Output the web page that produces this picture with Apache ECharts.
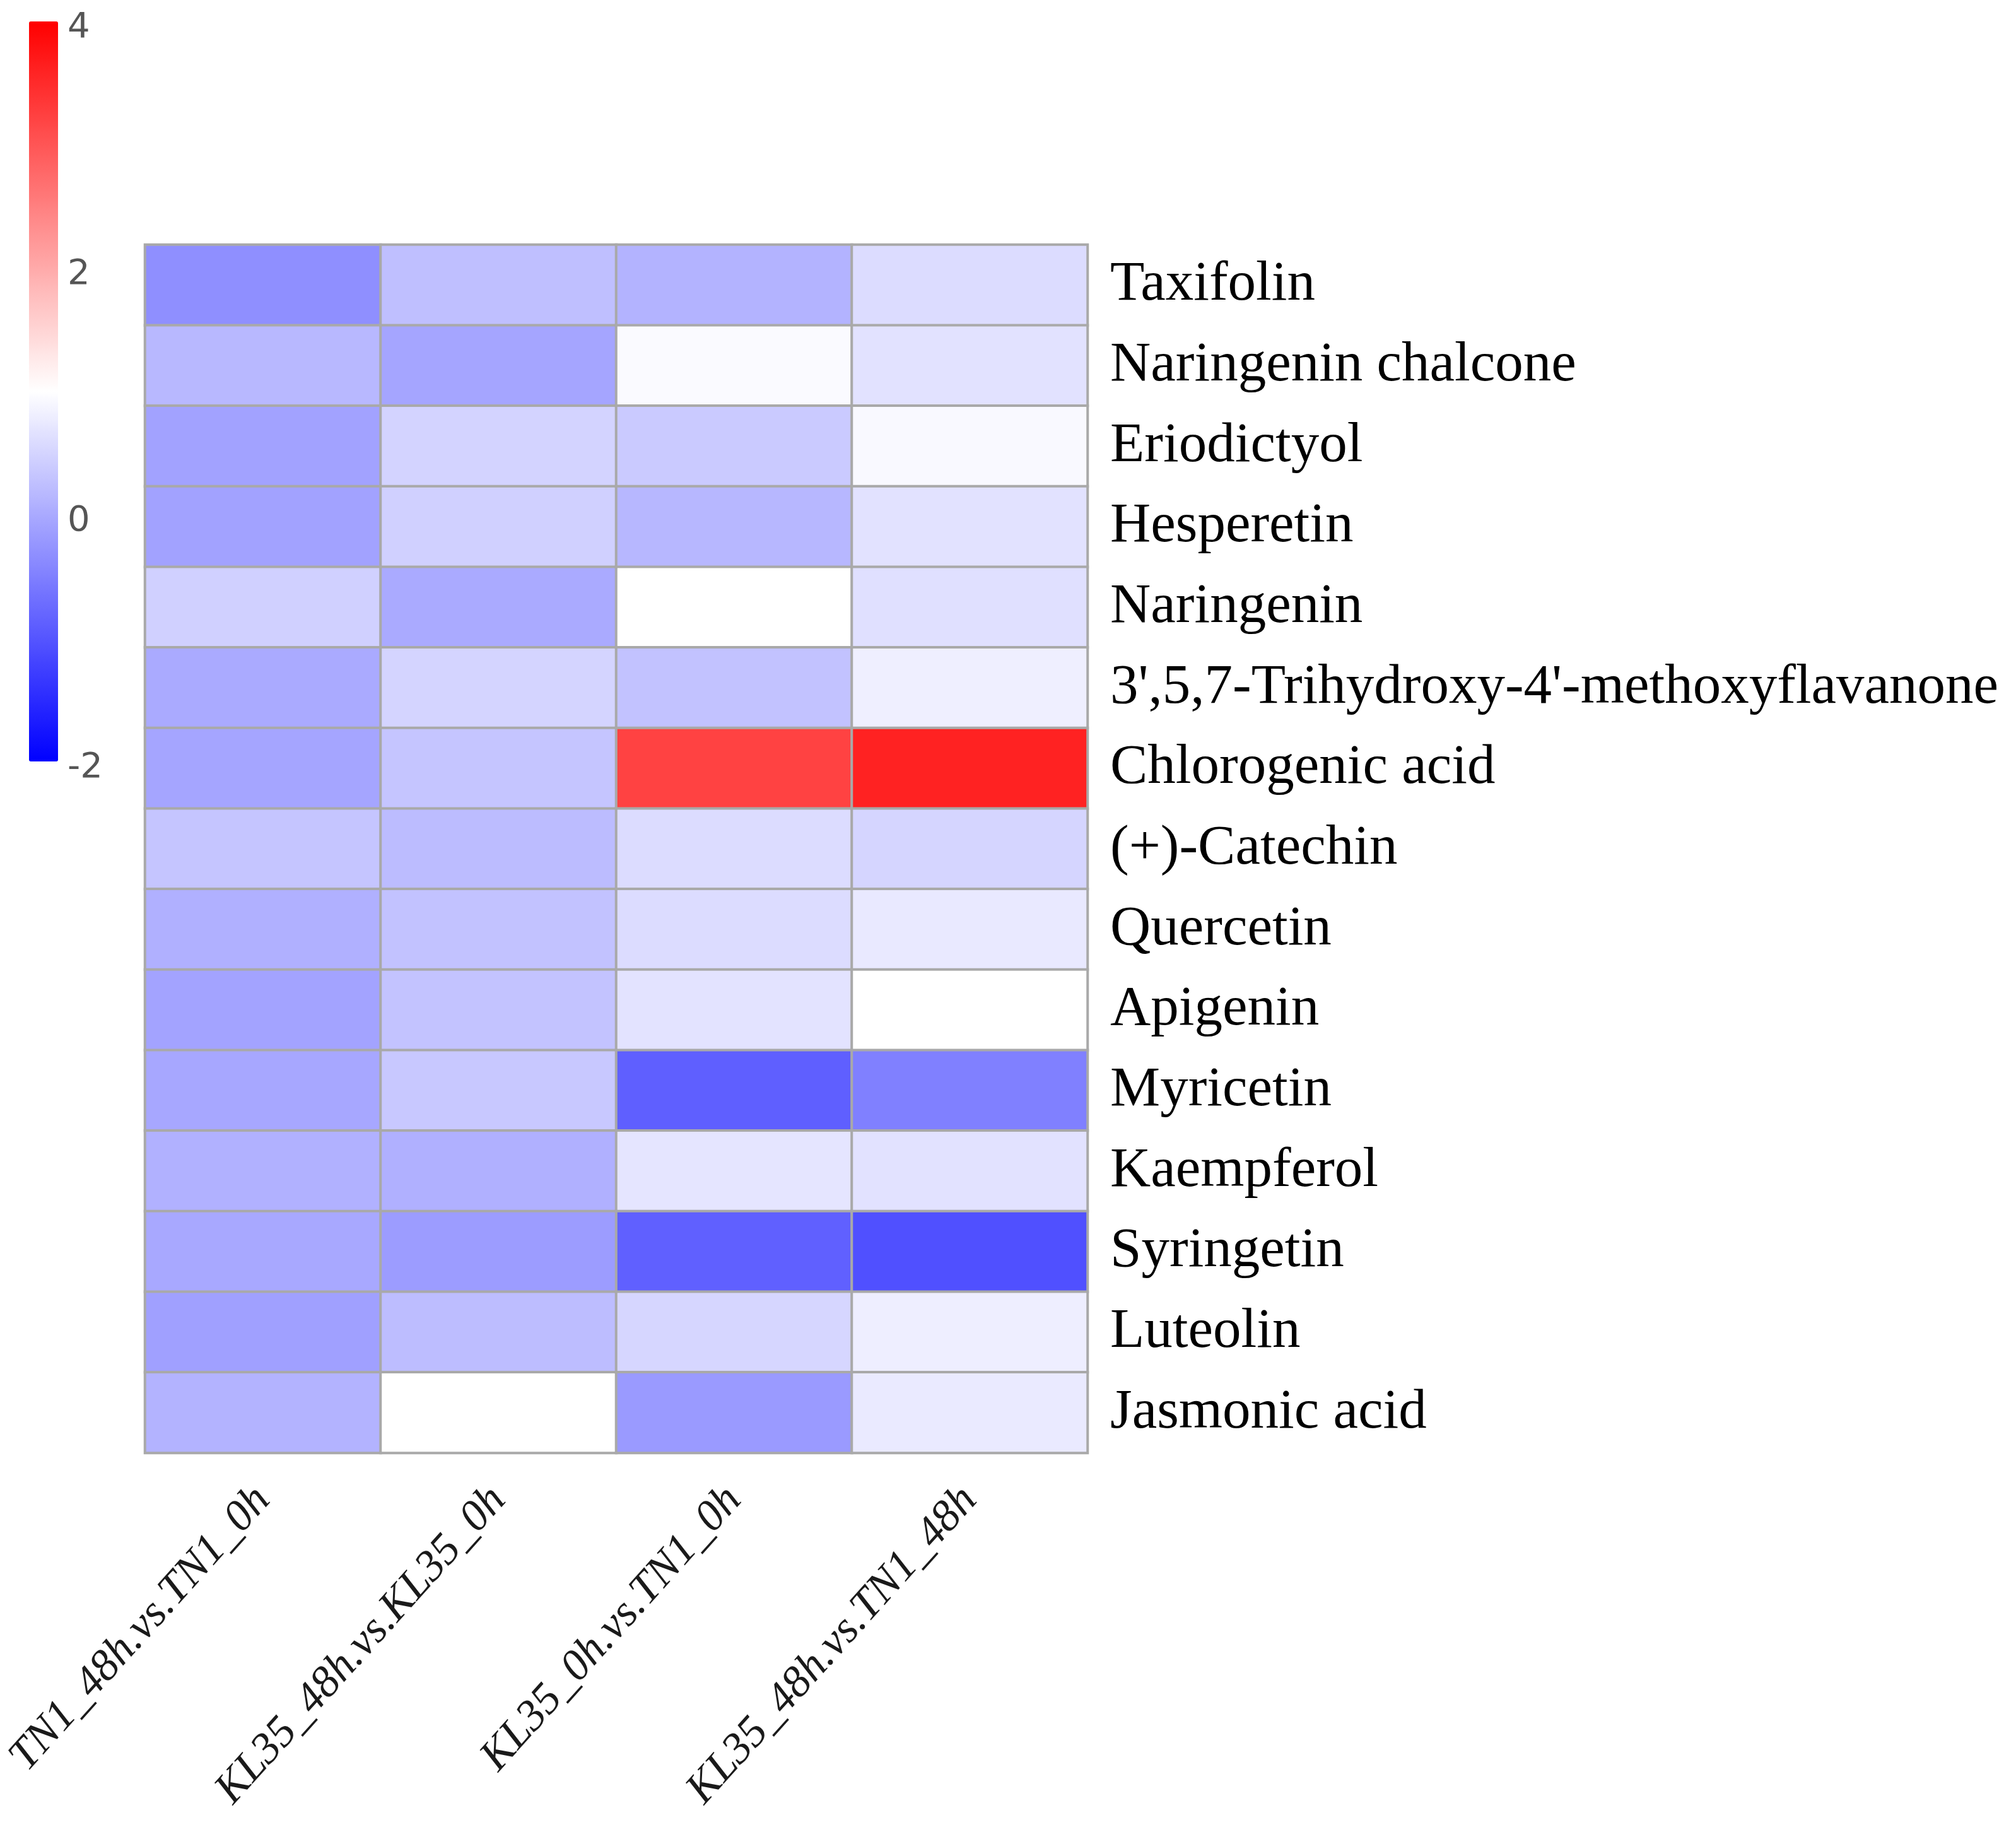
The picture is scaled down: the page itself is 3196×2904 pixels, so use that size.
<!DOCTYPE html>
<html lang="en">
<head>
    <meta charset="UTF-8">
    <title>Flavonoid heatmap</title>
    <script src="https://cdn.jsdelivr.net/npm/echarts@6/dist/echarts.min.js"></script>
    <style>
        html, body { margin: 0; padding: 0; background: #fff; }
        #main { width: 3196px; height: 2904px; }
    </style>
</head>
<body>
<div id="main"></div>

<script>
    // comparisons (columns) and compounds (rows, top to bottom)
    var comparisons = ['TN1_48h.vs.TN1_0h', 'KL35_48h.vs.KL35_0h', 'KL35_0h.vs.TN1_0h', 'KL35_48h.vs.TN1_48h'];
    var compounds = ['Taxifolin', 'Naringenin chalcone', 'Eriodictyol', 'Hesperetin', 'Naringenin',
        "3',5,7-Trihydroxy-4'-methoxyflavanone", 'Chlorogenic acid', '(+)-Catechin', 'Quercetin',
        'Apigenin', 'Myricetin', 'Kaempferol', 'Syringetin', 'Luteolin', 'Jasmonic acid'];

    // log2 fold change per column
    var tn1_48_vs_tn1_0 = [-0.32, 0.16, -0.09, -0.10, 0.45, 0.00, -0.06, 0.32, 0.07, -0.08, -0.04, 0.08, -0.02, -0.12, 0.10];
    var kl35_48_vs_kl35_0 = [0.25, -0.06, 0.48, 0.45, 0.00, 0.49, 0.32, 0.21, 0.28, 0.29, 0.35, 0.07, -0.16, 0.22, 1.00];
    var kl35_0_vs_tn1_0 = [0.10, 0.94, 0.38, 0.15, 1.00, 0.28, 3.22, 0.59, 0.59, 0.67, -0.88, 0.69, -0.87, 0.52, -0.19];
    var kl35_48_vs_tn1_48 = [0.59, 0.66, 0.93, 0.66, 0.63, 0.81, 3.60, 0.50, 0.74, 1.00, -0.50, 0.66, -1.06, 0.80, 0.75];

    var colorTicks = [-2, 0, 2, 4];

    var columns = [tn1_48_vs_tn1_0, kl35_48_vs_kl35_0, kl35_0_vs_tn1_0, kl35_48_vs_tn1_48];
    var cells = [];
    columns.forEach(function (col, x) {
        col.forEach(function (v, y) {
            cells.push([x, y, v]);
        });
    });

    var myChart = echarts.init(document.getElementById('main'));

    var option = {
        animation: false,
        backgroundColor: '#ffffff',
        grid: [
            {left: 230, top: 388, width: 1494, height: 1915},
            // thin grid that only carries the colour bar tick labels
            {left: 92, top: 44, width: 1, height: 1173}
        ],
        xAxis: [
            {
                type: 'category',
                data: comparisons,
                gridIndex: 0,
                position: 'bottom',
                axisLine: {show: false},
                axisTick: {show: false},
                splitLine: {show: false},
                axisLabel: {
                    rotate: 48,
                    margin: 64,
                    fontFamily: 'Liberation Serif',
                    fontStyle: 'italic',
                    fontSize: 70,
                    color: '#1a1a1a'
                }
            },
            {
                type: 'value',
                gridIndex: 1,
                show: false
            }
        ],
        yAxis: [
            {
                type: 'category',
                data: compounds,
                gridIndex: 0,
                inverse: true,
                position: 'right',
                axisLine: {show: false},
                axisTick: {show: false},
                splitLine: {show: false},
                axisLabel: {
                    margin: 36,
                    fontFamily: 'Liberation Serif',
                    fontSize: 89,
                    color: '#000000'
                }
            },
            {
                type: 'value',
                gridIndex: 1,
                min: colorTicks[0],
                max: colorTicks[colorTicks.length - 1],
                interval: 2,
                position: 'right',
                axisLine: {show: false},
                axisTick: {show: false},
                splitLine: {show: false},
                axisLabel: {
                    margin: 14,
                    fontFamily: 'DejaVu Sans',
                    fontSize: 56,
                    color: '#555555'
                }
            }
        ],
        visualMap: {
            type: 'continuous',
            min: -2,
            max: 4,
            calculable: false,
            orient: 'vertical',
            left: 46,
            top: 34,
            padding: 0,
            itemWidth: 46,
            itemHeight: 1173,
            text: null,
            showLabel: false,
            seriesIndex: 0,
            inRange: {
                color: ['#0000ff', '#ffffff', '#ff0000']
            }
        },
        series: [
            {
                type: 'heatmap',
                xAxisIndex: 0,
                yAxisIndex: 0,
                data: cells,
                itemStyle: {
                    borderColor: '#a9a9a9',
                    borderWidth: 4
                },
                label: {show: false}
            }
        ]
    };

    myChart.setOption(option, true);
</script>
</body>
</html>
